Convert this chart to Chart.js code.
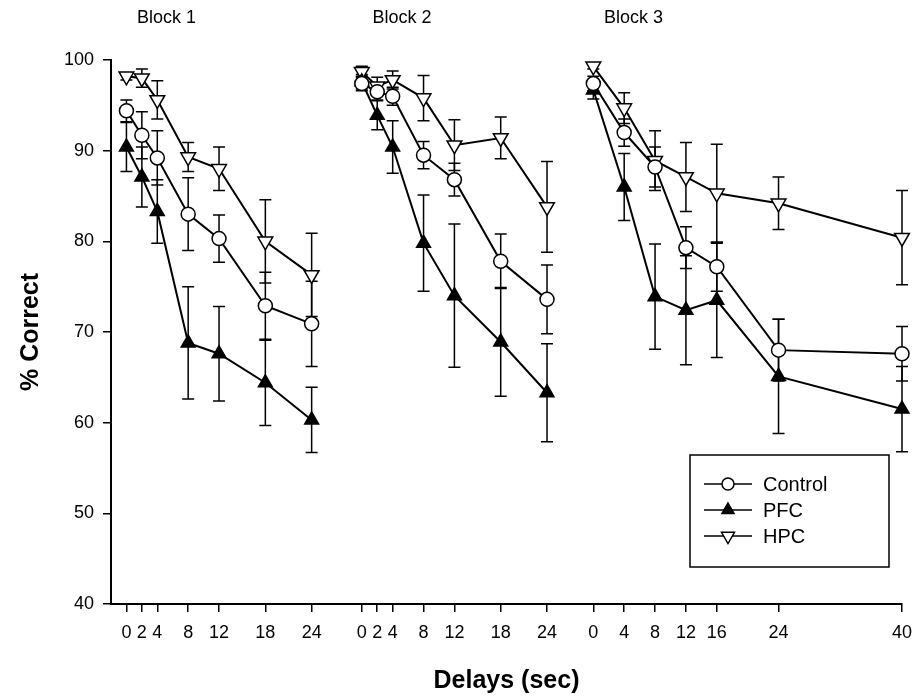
<!DOCTYPE html>
<html>
<head>
    <title>Delayed alternation</title>
    <script src="https://cdn.jsdelivr.net/npm/chart.js@4.4.0/dist/chart.umd.min.js"></script>
    <style>
        html, body { margin: 0; padding: 0; background: #fff; }
    </style>
</head>
<body>
    <div style="width: 917px; height: 696px;">
        <canvas id="ctx"></canvas>
    </div>

    <script>
        // delays (sec) tested in each block, and where each block starts on the x scale
        const blockTitles = ['Block 1', 'Block 2', 'Block 3'];
        const blockOffsets = [0, 30.5, 60.5];
        const blockDelays = [
            [0, 2, 4, 8, 12, 18, 24],
            [0, 2, 4, 8, 12, 18, 24],
            [0, 4, 8, 12, 16, 24, 40]
        ];

        // % correct, mean and standard error per block
        const controlMean = [
            [94.4, 91.7, 89.2, 83.0, 80.3, 72.9, 70.9],
            [97.4, 96.5, 96.0, 89.5, 86.8, 77.8, 73.6],
            [97.4, 92.0, 88.2, 79.3, 77.2, 68.0, 67.6]
        ];
        const controlErr = [
            [1.2, 2.6, 3.0, 4.0, 2.6, 3.7, 4.7],
            [0.8, 0.9, 1.0, 1.5, 1.8, 3.0, 3.8],
            [0.8, 1.5, 2.2, 2.3, 2.7, 3.4, 3.0]
        ];
        const pfcMean = [
            [90.4, 87.1, 83.3, 68.8, 67.6, 64.4, 60.3],
            [97.6, 93.9, 90.4, 79.8, 74.0, 68.9, 63.3],
            [96.7, 86.0, 73.9, 72.4, 73.5, 65.1, 61.5]
        ];
        const pfcErr = [
            [2.7, 3.3, 3.5, 6.2, 5.2, 4.7, 3.6],
            [0.8, 1.6, 2.9, 5.3, 7.9, 6.0, 5.4],
            [1.0, 3.7, 5.8, 6.0, 6.3, 6.3, 4.7]
        ];
        const hpcMean = [
            [98.2, 98.0, 95.6, 89.3, 88.0, 80.0, 76.3],
            [98.7, 97.1, 97.8, 95.8, 90.6, 91.4, 83.8],
            [99.3, 94.7, 88.9, 87.1, 85.3, 84.2, 80.4]
        ];
        const hpcErr = [
            [0.4, 1.0, 2.1, 1.6, 2.4, 4.6, 4.6],
            [0.6, 1.0, 1.0, 2.5, 2.8, 2.3, 5.0],
            [0.3, 1.7, 3.3, 3.8, 5.4, 2.9, 5.2]
        ];

        const FONT = "'Liberation Sans', Arial, Helvetica, sans-serif";

        const groups = [
            { label: 'Control', mean: controlMean, err: controlErr,
              style: { pointStyle: 'circle', radius: 7, rotation: 0, fill: '#fff' } },
            { label: 'PFC', mean: pfcMean, err: pfcErr,
              style: { pointStyle: 'triangle', radius: 8, rotation: 0, fill: '#000' } },
            { label: 'HPC', mean: hpcMean, err: hpcErr,
              style: { pointStyle: 'triangle', radius: 8.5, rotation: 180, fill: '#fff' } }
        ];

        // one line per group per block, so blocks are not joined
        const datasets = [];
        groups.forEach(g => {
            blockDelays.forEach((delays, b) => {
                datasets.push({
                    label: g.label,
                    data: delays.map((d, i) => ({ x: blockOffsets[b] + d, y: g.mean[b][i] })),
                    errors: g.err[b],
                    borderColor: '#000',
                    borderWidth: 2,
                    pointStyle: g.style.pointStyle,
                    pointRotation: g.style.rotation,
                    pointRadius: g.style.radius,
                    pointHoverRadius: g.style.radius,
                    pointBackgroundColor: g.style.fill,
                    pointBorderColor: '#000',
                    pointBorderWidth: 1.5,
                    fill: false,
                    clip: false,
                    tension: 0
                });
            });
        });

        const tickValues = [];
        const tickLabels = {};
        blockDelays.forEach((delays, b) => {
            delays.forEach(d => {
                const v = blockOffsets[b] + d;
                tickValues.push(v);
                tickLabels[v] = String(d);
            });
        });

        const errorBars = {
            id: 'errorBars',
            beforeDatasetsDraw(chart) {
                const c = chart.ctx;
                const y = chart.scales.y;
                c.save();
                c.strokeStyle = '#000';
                c.lineWidth = 1.5;
                chart.data.datasets.forEach((ds, di) => {
                    const meta = chart.getDatasetMeta(di);
                    meta.data.forEach((pt, i) => {
                        const v = ds.data[i].y;
                        const e = ds.errors[i];
                        const top = y.getPixelForValue(v + e);
                        const bot = y.getPixelForValue(v - e);
                        c.beginPath();
                        c.moveTo(pt.x, top);
                        c.lineTo(pt.x, bot);
                        c.moveTo(pt.x - 6, top);
                        c.lineTo(pt.x + 6, top);
                        c.moveTo(pt.x - 6, bot);
                        c.lineTo(pt.x + 6, bot);
                        c.stroke();
                    });
                });
                c.restore();
            }
        };

        const blockLabels = {
            id: 'blockLabels',
            afterDraw(chart) {
                const c = chart.ctx;
                const x = chart.scales.x;
                c.save();
                c.fillStyle = '#000';
                c.font = '18px ' + FONT;
                c.textAlign = 'center';
                c.textBaseline = 'middle';
                blockTitles.forEach((t, b) => {
                    c.fillText(t, x.getPixelForValue(blockOffsets[b] + 5.2), 18);
                });
                c.restore();
            }
        };

        const boxLegend = {
            id: 'boxLegend',
            afterDraw(chart) {
                const c = chart.ctx;
                const left = 690, top = 455, w = 199, h = 112;
                c.save();
                c.strokeStyle = '#000';
                c.lineWidth = 1.5;
                c.strokeRect(left, top, w, h);
                c.font = '20px ' + FONT;
                c.textBaseline = 'middle';
                groups.forEach((g, i) => {
                    const cy = top + 29 + i * 26;
                    c.strokeStyle = '#000';
                    c.lineWidth = 1.5;
                    c.beginPath();
                    c.moveTo(left + 14, cy);
                    c.lineTo(left + 62, cy);
                    c.stroke();
                    c.fillStyle = g.style.fill;
                    Chart.helpers.drawPoint(c, {
                        pointStyle: g.style.pointStyle,
                        radius: g.style.radius - 1,
                        rotation: g.style.rotation,
                        borderWidth: 1.5
                    }, left + 38, cy);
                    c.fillStyle = '#000';
                    c.fillText(g.label, left + 73, cy + 1);
                });
                c.restore();
            }
        };

        new Chart(document.getElementById('ctx'), {
            type: 'line',
            data: { datasets: datasets },
            options: {
                responsive: true,
                maintainAspectRatio: false,
                animation: false,
                layout: { padding: { top: 60, right: 15, left: 10, bottom: 0 } },
                plugins: {
                    legend: { display: false },
                    tooltip: { enabled: false }
                },
                scales: {
                    x: {
                        type: 'linear',
                        min: -2,
                        max: 100.5,
                        afterFit(scale) {
                            scale.height = 92;
                            scale.paddingRight = 0;
                        },
                        afterBuildTicks(scale) {
                            scale.ticks = tickValues.map(v => ({ value: v }));
                        },
                        ticks: {
                            autoSkip: false,
                            maxRotation: 0,
                            color: '#000',
                            padding: 10,
                            font: { family: FONT, size: 18 },
                            callback: v => tickLabels[v]
                        },
                        grid: { drawOnChartArea: false, drawTicks: true, tickLength: 8, color: '#000', lineWidth: 1.5 },
                        border: { color: '#000', width: 2 },
                        title: {
                            display: true,
                            text: 'Delays (sec)',
                            color: '#000',
                            font: { family: FONT, size: 25, weight: 'bold' },
                            padding: { top: 2, bottom: 0 }
                        }
                    },
                    y: {
                        min: 40,
                        max: 100,
                        afterFit(scale) { scale.width = 101; },
                        ticks: {
                            stepSize: 10,
                            color: '#000',
                            padding: 9,
                            font: { family: FONT, size: 18 }
                        },
                        grid: { drawOnChartArea: false, drawTicks: true, tickLength: 8, color: '#000', lineWidth: 1.5 },
                        border: { color: '#000', width: 2 },
                        title: {
                            display: true,
                            text: '% Correct',
                            color: '#000',
                            font: { family: FONT, size: 25, weight: 'bold' },
                            padding: { top: 6, bottom: 4 }
                        }
                    }
                }
            },
            plugins: [errorBars, blockLabels, boxLegend]
        });
    </script>
</body>
</html>
